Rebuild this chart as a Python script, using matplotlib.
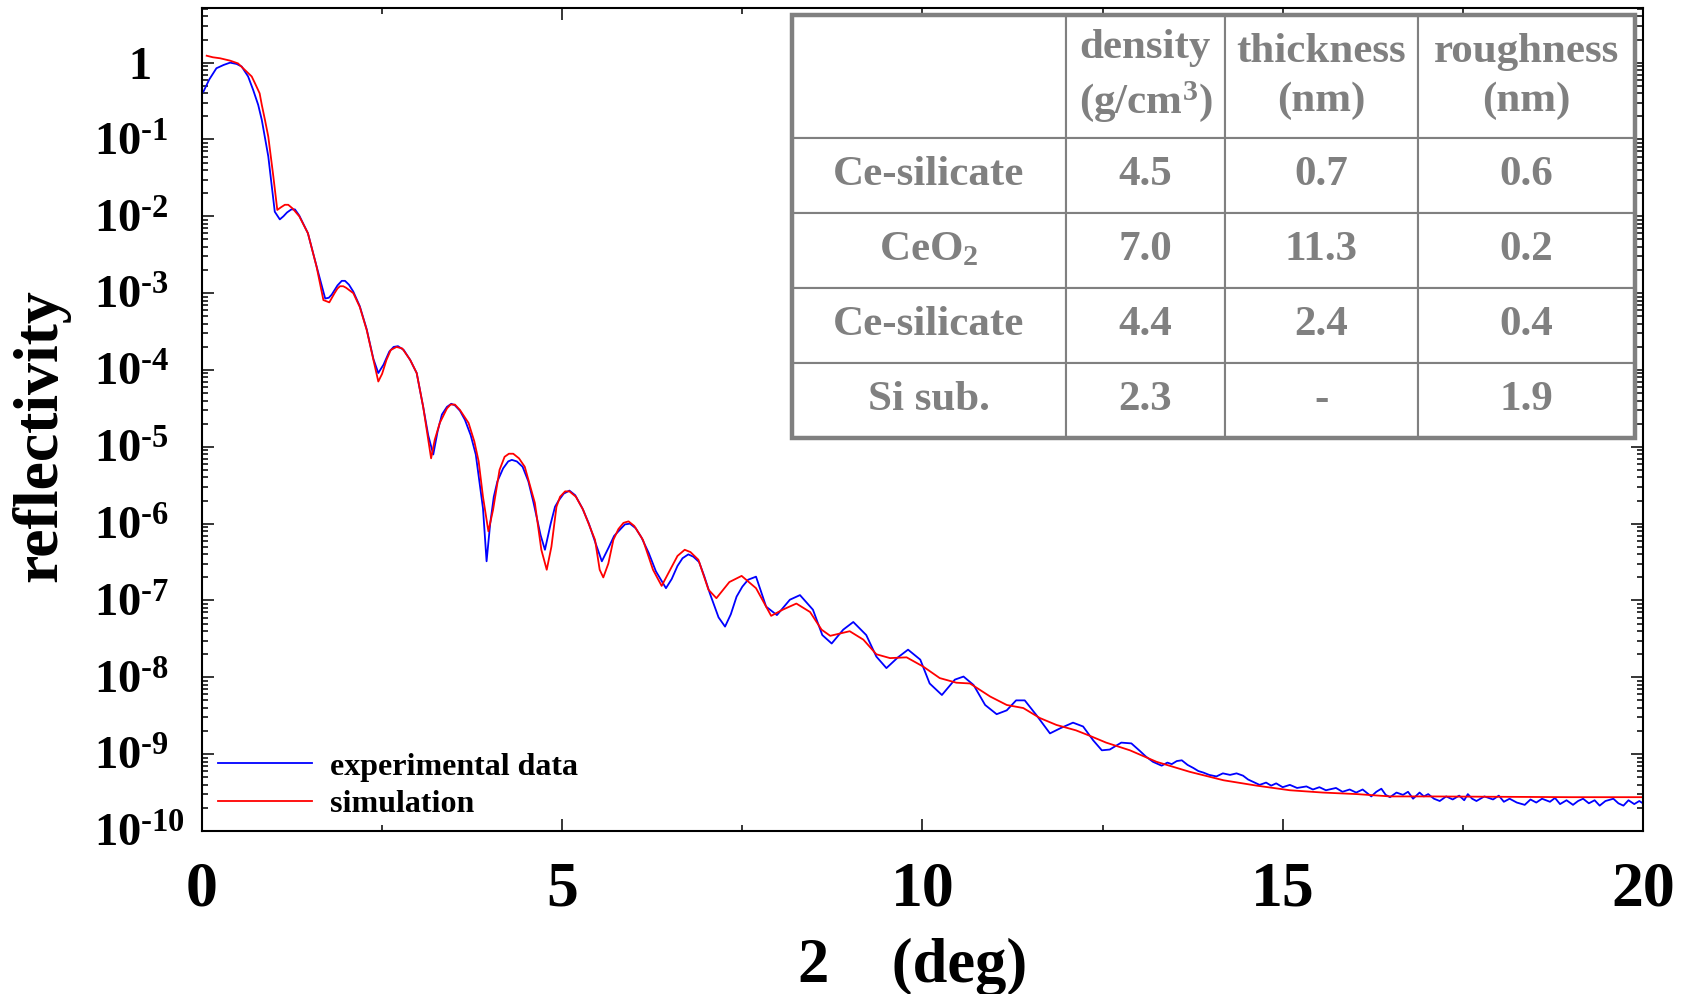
import numpy as np
import matplotlib
matplotlib.use('Agg')
import matplotlib.pyplot as plt
import matplotlib as mpl
from matplotlib.ticker import LogLocator, NullFormatter, MultipleLocator
from matplotlib.patches import Rectangle

params = {
    'font.family': 'Liberation Serif',
    'font.weight': 'bold',
    'axes.labelweight': 'bold',
    'mathtext.fontset': 'custom',
    'mathtext.default': 'regular',
    'mathtext.rm': 'Liberation Serif:bold',
    'mathtext.bf': 'Liberation Serif:bold',
    'mathtext.it': 'Liberation Serif:bold:italic',
    'axes.linewidth': 1.5,
    'figure.figsize': [16.89, 9.94],
    'figure.dpi': 100,
    }
mpl.rcParams.update(params)

# experimental data (2theta in deg, log10 of reflectivity)
exp_x = [0.02, 0.10, 0.20, 0.30, 0.39, 0.48, 0.55, 0.64, 0.71, 0.78,
         0.83, 0.92, 1.01, 1.08, 1.13, 1.18, 1.24, 1.29, 1.35, 1.47,
         1.59, 1.71, 1.76, 1.80, 1.88, 1.94, 1.985, 2.04, 2.10, 2.19,
         2.286, 2.38, 2.447, 2.52, 2.60, 2.66, 2.72, 2.80, 2.89, 2.98,
         3.07, 3.14, 3.21, 3.27, 3.33, 3.40, 3.46, 3.51, 3.58, 3.65,
         3.73, 3.80, 3.90, 3.95, 4.00, 4.05, 4.10, 4.18, 4.25, 4.30,
         4.37, 4.45, 4.53, 4.60, 4.70, 4.76, 4.84, 4.90, 4.95, 5.02,
         5.10, 5.18, 5.28, 5.37, 5.45, 5.55, 5.65, 5.72, 5.80, 5.87,
         5.94, 6.02, 6.10, 6.20, 6.30, 6.44, 6.52, 6.60, 6.67, 6.75,
         6.82, 6.90, 6.97, 7.05, 7.17, 7.26, 7.34, 7.42, 7.50, 7.58,
         7.69, 7.83, 7.98, 8.16, 8.30, 8.48, 8.61, 8.74, 8.90, 9.04,
         9.22, 9.36, 9.50, 9.66, 9.80, 9.97, 10.10, 10.27, 10.45, 10.57,
         10.71, 10.87, 11.03, 11.17, 11.30, 11.42, 11.58, 11.77, 11.92, 12.09,
         12.23, 12.37, 12.49, 12.60, 12.76, 12.90, 13.02, 13.10, 13.20, 13.32,
         13.40, 13.46, 13.53, 13.60, 13.68, 13.76, 13.83, 13.90, 13.98, 14.08,
         14.17, 14.27, 14.36, 14.45, 14.52, 14.59, 14.68, 14.77, 14.84, 14.91,
         15.00, 15.10, 15.20, 15.33, 15.42, 15.51, 15.60, 15.74, 15.83, 15.93,
         16.02, 16.11, 16.23, 16.30, 16.37, 16.43, 16.49, 16.58, 16.67, 16.74,
         16.81, 16.90, 16.96, 17.02, 17.10, 17.18, 17.27, 17.36, 17.45, 17.52,
         17.57, 17.63, 17.69, 17.80, 17.92, 18.00, 18.07, 18.15, 18.25, 18.36,
         18.44, 18.52, 18.60, 18.71, 18.78, 18.85, 18.94, 19.03, 19.10, 19.17,
         19.25, 19.33, 19.40, 19.48, 19.59, 19.66, 19.73, 19.80, 19.88, 19.95,
         20.0]
exp_log = [-0.377, -0.22, -0.073, -0.03, 0.0, -0.017, -0.05, -0.18, -0.355, -0.55,
           -0.746, -1.22, -1.94, -2.04, -2.00, -1.95, -1.91, -1.91, -1.99, -2.22,
           -2.65, -3.07, -3.06, -3.02, -2.90, -2.84, -2.84, -2.89, -2.98, -3.17,
           -3.47, -3.86, -4.04, -3.93, -3.76, -3.70, -3.69, -3.74, -3.87, -4.04,
           -4.48, -4.85, -5.10, -4.80, -4.58, -4.48, -4.44, -4.46, -4.53, -4.65,
           -4.85, -5.10, -5.80, -6.49, -6.00, -5.65, -5.45, -5.28, -5.19, -5.17,
           -5.19, -5.26, -5.45, -5.72, -6.15, -6.34, -6.00, -5.78, -5.70, -5.61,
           -5.57, -5.63, -5.80, -6.00, -6.22, -6.49, -6.30, -6.16, -6.08, -6.01,
           -6.00, -6.06, -6.18, -6.38, -6.62, -6.84, -6.72, -6.55, -6.45, -6.40,
           -6.43, -6.50, -6.68, -6.91, -7.22, -7.34, -7.18, -6.95, -6.82, -6.73,
           -6.69, -7.08, -7.19, -6.99, -6.93, -7.12, -7.45, -7.56, -7.38, -7.28,
           -7.45, -7.73, -7.88, -7.74, -7.64, -7.77, -8.08, -8.23, -8.03, -7.99,
           -8.10, -8.36, -8.48, -8.43, -8.30, -8.30, -8.49, -8.73, -8.66, -8.59,
           -8.64, -8.82, -8.95, -8.94, -8.85, -8.86, -8.96, -9.03, -9.10, -9.15,
           -9.11, -9.13, -9.09, -9.08, -9.14, -9.18, -9.22, -9.24, -9.27, -9.29,
           -9.25, -9.27, -9.25, -9.28, -9.33, -9.36, -9.40, -9.37, -9.41, -9.38,
           -9.43, -9.40, -9.44, -9.42, -9.46, -9.43, -9.47, -9.44, -9.49, -9.46,
           -9.50, -9.46, -9.55, -9.49, -9.45, -9.53, -9.56, -9.50, -9.53, -9.49,
           -9.58, -9.50, -9.55, -9.52, -9.58, -9.61, -9.55, -9.59, -9.54, -9.60,
           -9.52, -9.58, -9.61, -9.55, -9.59, -9.54, -9.62, -9.58, -9.63, -9.66,
           -9.59, -9.63, -9.58, -9.62, -9.57, -9.65, -9.60, -9.66, -9.61, -9.58,
           -9.64, -9.60, -9.67, -9.61, -9.58, -9.64, -9.67, -9.60, -9.65, -9.61,
           -9.64]

# simulation
sim_x = [0.065, 0.15, 0.25, 0.39, 0.50, 0.62, 0.69, 0.736, 0.80, 0.83,
         0.874, 0.92, 0.99, 1.045, 1.10, 1.15, 1.197, 1.26, 1.35, 1.47,
         1.59, 1.685, 1.767, 1.84, 1.88, 1.915, 1.96, 2.0, 2.10, 2.19,
         2.286, 2.38, 2.447, 2.50, 2.56, 2.62, 2.70, 2.78, 2.89, 2.98,
         3.07, 3.18, 3.23, 3.30, 3.40, 3.45, 3.51, 3.58, 3.70, 3.78,
         3.84, 3.90, 3.975, 4.04, 4.13, 4.20, 4.26, 4.32, 4.40, 4.48,
         4.62, 4.71, 4.785, 4.85, 4.92, 4.97, 5.04, 5.10, 5.19, 5.29,
         5.455, 5.52, 5.57, 5.64, 5.71, 5.78, 5.85, 5.92, 6.00, 6.12,
         6.26, 6.38, 6.52, 6.60, 6.70, 6.78, 6.89, 7.03, 7.14, 7.32,
         7.49, 7.69, 7.90, 8.06, 8.25, 8.44, 8.60, 8.72, 8.99, 9.18,
         9.36, 9.55, 9.78, 10.01, 10.24, 10.47, 10.66, 10.94, 11.17, 11.40,
         11.63, 11.86, 12.13, 12.32, 12.55, 12.88, 13.25, 13.71, 14.18, 14.64,
         15.10, 15.56, 16.03, 16.49, 17.0, 18.0, 19.0, 20.0]
sim_log = [0.09, 0.07, 0.057, 0.026, -0.01, -0.117, -0.18, -0.27, -0.40, -0.55,
           -0.746, -0.963, -1.48, -1.917, -1.88, -1.85, -1.85, -1.90, -2.0, -2.22,
           -2.655, -3.09, -3.12, -3.0, -2.94, -2.91, -2.91, -2.93, -3.0, -3.18,
           -3.48, -3.87, -4.15, -4.05, -3.87, -3.74, -3.70, -3.72, -3.87, -4.04,
           -4.48, -5.15, -4.91, -4.69, -4.50, -4.45, -4.45, -4.52, -4.69, -4.93,
           -5.19, -5.65, -6.10, -5.82, -5.30, -5.13, -5.09, -5.09, -5.15, -5.26,
           -5.73, -6.34, -6.60, -6.30, -5.78, -5.65, -5.58, -5.58, -5.65, -5.82,
           -6.21, -6.60, -6.70, -6.52, -6.21, -6.07, -5.99, -5.97, -6.03, -6.21,
           -6.60, -6.81, -6.56, -6.42, -6.34, -6.37, -6.47, -6.86, -6.97, -6.76,
           -6.68, -6.84, -7.20, -7.12, -7.04, -7.15, -7.38, -7.46, -7.40, -7.51,
           -7.70, -7.75, -7.74, -7.86, -8.01, -8.07, -8.08, -8.25, -8.36, -8.40,
           -8.53, -8.62, -8.69, -8.76, -8.85, -8.95, -9.10, -9.23, -9.34, -9.41,
           -9.47, -9.50, -9.52, -9.55, -9.55, -9.555, -9.56, -9.56]

decades = list(range(-10, 1))

# fitted layer parameters
layers = ['Ce-silicate', 'CeO$_2$', 'Ce-silicate', 'Si sub.']
density = ['4.5', '7.0', '4.4', '2.3']
thickness = ['0.7', '11.3', '2.4', '-']
roughness = ['0.6', '0.2', '0.4', '1.9']
headers = ['', 'density\n(g/cm$^3$)', 'thickness\n(nm)', 'roughness\n(nm)']

gray = '#808080'

fig = plt.figure()
ax = fig.add_axes([0.1196, 0.164, 0.8531, 0.828])

ax.plot(exp_x, 10.0 ** np.array(exp_log), color='#0000ff', lw=1.3, label='experimental data')
ax.plot(sim_x, 10.0 ** np.array(sim_log), color='#ff0000', lw=1.3, label='simulation')

ax.set_yscale('log')
ax.set_xlim(0, 20)
ax.set_ylim(1e-10, 5.15)

ax.set_xticks([0, 5, 10, 15, 20])
ax.xaxis.set_minor_locator(MultipleLocator(2.5))
ax.set_yticks([10.0 ** d for d in decades])
ylabels = ['   1' if d == 0 else r'$10^{\text{-}%d}$' % (-d) for d in decades]
ax.set_yticklabels(ylabels, ha='left')
ax.yaxis.set_minor_locator(LogLocator(base=10, subs=range(2, 10), numticks=100))
ax.yaxis.set_minor_formatter(NullFormatter())

ax.tick_params(which='both', direction='in', top=True, right=True, width=1.1)
ax.tick_params(which='major', length=8.6)
ax.tick_params(which='minor', length=4.3)
ax.tick_params(axis='x', labelsize=46, pad=22)
ax.tick_params(axis='y', labelsize=33.5, pad=78)

ax.set_xlabel('2    (deg)', fontsize=45)
ax.xaxis.label.set_va('baseline')
ax.xaxis.set_label_coords(0.4934, -0.1835)
ax.set_ylabel('reflectivity', fontsize=46)
ax.yaxis.set_label_coords(-0.0916, 0.481)

ax.legend(loc='lower left', bbox_to_anchor=(0.011, 0.0146), frameon=False,
          fontsize=23, borderpad=0, borderaxespad=0, handlelength=2.94,
          handletextpad=0.56, labelspacing=0.25)

# layer table in the upper right
cells = [headers] + [[n, d, t, r] for n, d, t, r in zip(layers, density, thickness, roughness)]
tb_box = [0.4094, 0.4775, 0.585, 0.514]
tbl = ax.table(cellText=cells, cellLoc='center', colWidths=[274, 159, 193, 217],
               bbox=tb_box, zorder=4)
tbl.auto_set_font_size(False)
tbl.set_fontsize(31)
for (r, c), cell in tbl.get_celld().items():
    cell.set_edgecolor(gray)
    cell.set_linewidth(1.5)
    cell.set_facecolor('white')
    txt = cell.get_text()
    txt.set_color(gray)
    txt.set_fontweight('bold')
    if r == 0:
        cell.set_height(cell.get_height() * 123 / 75)
        txt.set_linespacing(1.35)
ax.add_patch(Rectangle((tb_box[0], tb_box[1]), tb_box[2], tb_box[3], transform=ax.transAxes,
                       fill=False, ec=gray, lw=3.2, zorder=6, clip_on=False))

fig.savefig('out.png', dpi=100)
plt.close()
